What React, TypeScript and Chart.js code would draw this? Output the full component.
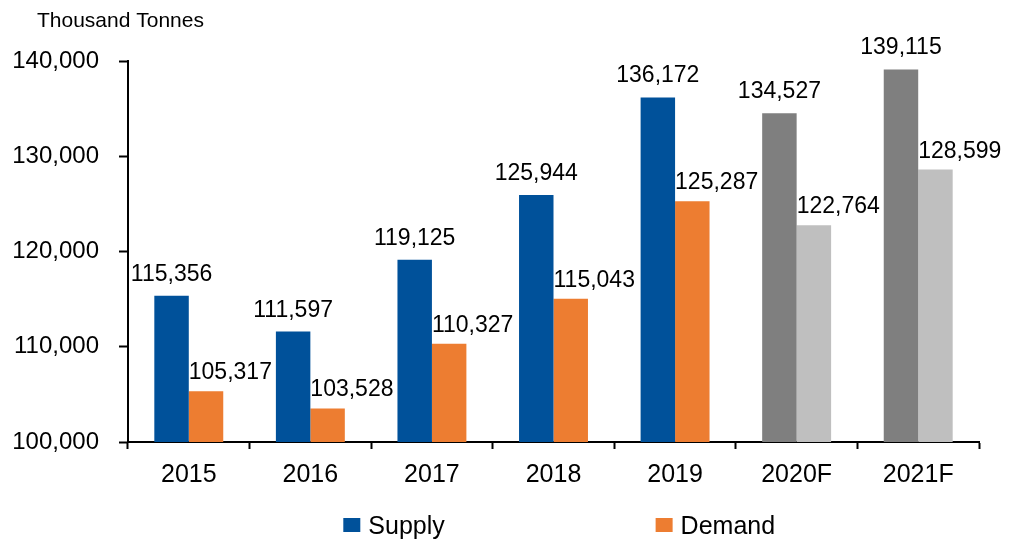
import React, { useEffect, useRef } from 'react';
import { Chart, registerables } from 'chart.js';

Chart.register(...registerables);

// ---- data ----
const categories = ['2015', '2016', '2017', '2018', '2019', '2020F', '2021F'];
const supply = [115356, 111597, 119125, 125944, 136172, 134527, 139115];
const demand = [105317, 103528, 110327, 115043, 125287, 122764, 128599];
const yTicks = [100000, 110000, 120000, 130000, 140000];
const seriesNames = ['Supply', 'Demand'];
const unitLabel = 'Thousand Tonnes';

// ---- styles ----
const FONT = "'Liberation Sans', Arial, Helvetica, sans-serif";
const SUPPLY_COLOR = '#00519A';
const DEMAND_COLOR = '#ED7D31';
const SUPPLY_FC_COLOR = '#7F7F7F';
const DEMAND_FC_COLOR = '#BFBFBF';
const isForecast = (c: string) => c.endsWith('F');
const fmt = (v: number) => v.toLocaleString('en-US');

const valueLabelPlugin = {
  id: 'valueLabels',
  afterDatasetsDraw(chart: any) {
    const ctx = chart.ctx;
    ctx.save();
    ctx.fillStyle = '#000';
    ctx.font = `23px ${FONT}`;
    ctx.textBaseline = 'alphabetic';
    chart.data.datasets.forEach((ds: any, di: number) => {
      const meta = chart.getDatasetMeta(di);
      meta.data.forEach((el: any, i: number) => {
        const text = fmt(ds.data[i]);
        if (di === 0) {
          ctx.textAlign = 'center';
          ctx.fillText(text, el.x, el.y - 15);
        } else {
          ctx.textAlign = 'left';
          ctx.fillText(text, el.x - el.width / 2, el.y - 12);
        }
      });
    });
    ctx.restore();
  },
};

const decorPlugin = {
  id: 'decor',
  afterDraw(chart: any) {
    const ctx = chart.ctx;
    const area = chart.chartArea;
    const w = area.right - area.left;
    ctx.save();
    ctx.fillStyle = '#000';
    ctx.textAlign = 'left';
    ctx.textBaseline = 'alphabetic';
    ctx.font = `21px ${FONT}`;
    ctx.fillText(unitLabel, 37, 27);

    const items = [
      { name: seriesNames[0], color: SUPPLY_COLOR, x: area.left + 0.253 * w },
      { name: seriesNames[1], color: DEMAND_COLOR, x: area.left + 0.62 * w },
    ];
    ctx.font = `25px ${FONT}`;
    items.forEach((it) => {
      ctx.fillStyle = it.color;
      ctx.fillRect(it.x, 518, 17, 14);
      ctx.fillStyle = '#000';
      ctx.fillText(it.name, it.x + 25, 534);
    });
    ctx.restore();
  },
};

export default function App() {
  const ref = useRef<HTMLCanvasElement | null>(null);

  useEffect(() => {
    if (!ref.current) return;
    const chart = new Chart(ref.current, {
      type: 'bar',
      data: {
        labels: categories,
        datasets: [
          {
            label: seriesNames[0],
            data: supply,
            backgroundColor: categories.map((c) => (isForecast(c) ? SUPPLY_FC_COLOR : SUPPLY_COLOR)),
            borderWidth: 0,
            categoryPercentage: 0.567,
            barPercentage: 1,
          },
          {
            label: seriesNames[1],
            data: demand,
            backgroundColor: categories.map((c) => (isForecast(c) ? DEMAND_FC_COLOR : DEMAND_COLOR)),
            borderWidth: 0,
            categoryPercentage: 0.567,
            barPercentage: 1,
          },
        ],
      },
      options: {
        responsive: true,
        maintainAspectRatio: false,
        animation: false,
        layout: { padding: { left: 8, right: 47, top: 61, bottom: 40 } },
        plugins: {
          legend: { display: false },
          tooltip: { enabled: false },
          title: { display: false },
        },
        scales: {
          x: {
            type: 'category',
            offset: true,
            grid: {
              display: true,
              drawOnChartArea: false,
              drawTicks: true,
              tickLength: 7,
              tickWidth: 2,
              tickColor: '#000',
              offset: true,
            },
            border: { display: true, color: '#000', width: 2 },
            ticks: {
              color: '#000',
              font: { family: FONT, size: 25 },
              padding: 11,
              maxRotation: 0,
              autoSkip: false,
            },
            afterFit: (s: any) => {
              s.height = 57;
            },
          },
          y: {
            min: yTicks[0],
            max: yTicks[yTicks.length - 1],
            grid: {
              drawOnChartArea: false,
              drawTicks: true,
              tickLength: 9,
              tickWidth: 2,
              tickColor: '#000',
            },
            border: { display: true, color: '#000', width: 2 },
            ticks: {
              color: '#000',
              font: { family: FONT, size: 24 },
              padding: 20,
              callback: (v: any) => fmt(Number(v)),
            },
            afterBuildTicks: (s: any) => {
              s.ticks = yTicks.map((v) => ({ value: v }));
            },
            afterFit: (s: any) => {
              s.width = 120;
            },
          },
        },
      },
      plugins: [valueLabelPlugin, decorPlugin],
    });
    return () => chart.destroy();
  }, []);

  return (
    <div style={{ position: 'fixed', left: 0, top: 0, width: 1026, height: 539, background: '#fff' }}>
      <canvas ref={ref} />
    </div>
  );
}
